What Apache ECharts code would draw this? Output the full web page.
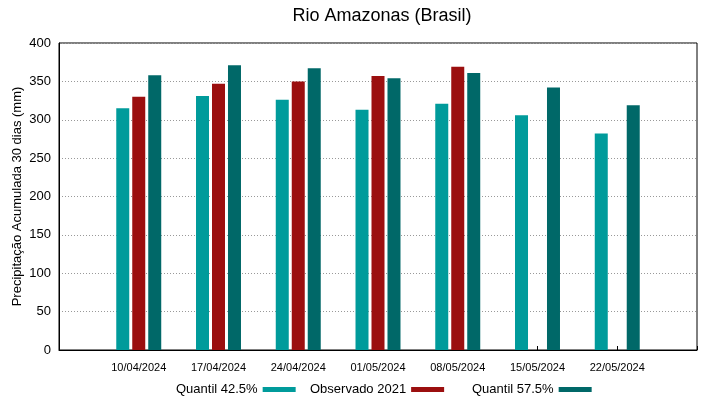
<!DOCTYPE html>
<html lang="pt">
<head>
    <meta charset="UTF-8">
    <title>Rio Amazonas (Brasil)</title>
    <script src="https://cdn.jsdelivr.net/npm/echarts@6/dist/echarts.min.js"></script>
    <style>
        html, body { margin: 0; padding: 0; background: #fff; }
        #chart { width: 719px; height: 399px; }
    </style>
</head>
<body>
<div id="chart"></div>
<script>
    // datas das semanas
    var dates = ['10/04/2024', '17/04/2024', '24/04/2024', '01/05/2024', '08/05/2024', '15/05/2024', '22/05/2024'];
    // precipitação acumulada 30 dias (mm)
    var q425 = [315, 331, 326, 313, 321, 306, 282];
    var obs2021 = [330, 347, 350, 357, 369, null, null];
    var q575 = [358, 371, 367, 354, 361, 342, 319];
    var yTicks = [0, 50, 100, 150, 200, 250, 300, 350, 400];

    var font = 'Liberation Sans, Arial, sans-serif';

    function toPairs(arr) {
        var out = [];
        for (var i = 0; i < arr.length; i++) {
            out.push([i, arr[i] === null ? '-' : arr[i]]);
        }
        return out;
    }

    var myChart = echarts.init(document.getElementById('chart'));
    var option = {
        animation: false,
        backgroundColor: '#fff',
        title: {
            text: 'Rio Amazonas (Brasil)',
            left: 377,
            top: 2,
            textAlign: 'center',
            textStyle: { fontFamily: font, fontSize: 18, fontWeight: 'normal', color: '#000' }
        },
        // legendas separadas para reproduzir o espaçamento
        legend: [{
            data: ['Quantil 42.5%'],
            left: 171, top: 378, align: 'right',
            itemWidth: 33, itemHeight: 5, icon: 'rect',
            textStyle: { fontFamily: font, fontSize: 13, color: '#000' }
        }, {
            data: ['Observado 2021'],
            left: 305, top: 378, align: 'right',
            itemWidth: 33, itemHeight: 5, icon: 'rect',
            textStyle: { fontFamily: font, fontSize: 13, color: '#000' }
        }, {
            data: ['Quantil 57.5%'],
            left: 467, top: 378, align: 'right',
            itemWidth: 33, itemHeight: 5, icon: 'rect',
            textStyle: { fontFamily: font, fontSize: 13, color: '#000' }
        }],
        grid: {
            left: 59, right: 22, top: 43, bottom: 49,
            outerBoundsMode: 'none',
            containLabel: false,
            show: true, borderColor: '#000', borderWidth: 1
        },
        xAxis: {
            type: 'value',
            min: -1, max: 7, interval: 1,
            axisLine: { show: true, onZero: false, lineStyle: { color: '#000' } },
            axisTick: { show: true, inside: true, length: 4, lineStyle: { color: '#000' } },
            splitLine: { show: false },
            axisLabel: {
                fontFamily: font, fontSize: 11, color: '#000', margin: 12,
                formatter: function (v) { return dates[v] || ''; }
            }
        },
        yAxis: {
            type: 'value',
            min: yTicks[0], max: yTicks[yTicks.length - 1], interval: 50,
            name: 'Precipitação Acumulada 30 dias (mm)',
            nameLocation: 'middle',
            nameGap: 35,
            nameMoveOverlap: false,
            nameTextStyle: { fontFamily: font, fontSize: 13, color: '#000' },
            axisLine: { show: true, onZero: false, lineStyle: { color: '#000' } },
            axisTick: { show: false },
            axisLabel: { fontFamily: font, fontSize: 13, color: '#000', margin: 8 },
            splitLine: { show: true, lineStyle: { color: '#999', type: [1, 2], width: 1 } }
        },
        series: [{
            name: 'Quantil 42.5%',
            type: 'bar',
            barWidth: 13,
            barGap: '23%',
            itemStyle: { color: '#009b9b' },
            data: toPairs(q425)
        }, {
            name: 'Observado 2021',
            type: 'bar',
            barWidth: 13,
            barGap: '23%',
            itemStyle: { color: '#9b0f0f' },
            data: toPairs(obs2021)
        }, {
            name: 'Quantil 57.5%',
            type: 'bar',
            barWidth: 13,
            barGap: '23%',
            itemStyle: { color: '#006868' },
            data: toPairs(q575)
        }]
    };
    myChart.setOption(option);
</script>
</body>
</html>
